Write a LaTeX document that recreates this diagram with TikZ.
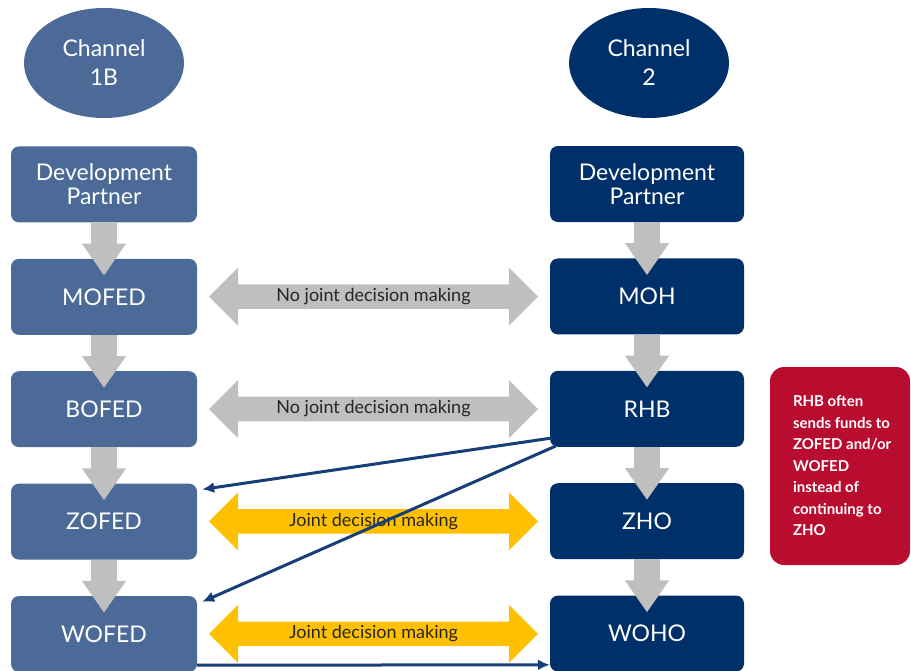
\documentclass[tikz,border=0pt]{standalone}
\usepackage{fontspec}
\setmainfont{Lato}
\usetikzlibrary{positioning,shapes.geometric,shapes.arrows,arrows.meta,calc}
\definecolor{leftblue}{HTML}{4B6A97}
\definecolor{navy}{HTML}{003069}
\definecolor{arrowgray}{HTML}{BFBFBF}
\definecolor{jointgold}{HTML}{FFC000}
\definecolor{notered}{HTML}{B90D30}
\definecolor{linkblue}{HTML}{173E78}
\definecolor{labeltext}{HTML}{262626}
\begin{document}
\begin{tikzpicture}[node distance={36pt},
    chan/.style = {ellipse, minimum width=160pt, minimum height=110pt, inner sep=0pt, text=white, align=center, font=\fontsize{23}{29}\selectfont},
    org/.style = {rounded corners=8pt, minimum height=76pt, inner sep=0pt, text=white, align=center, font=\fontsize{23}{24}\selectfont},
    org1/.style = {org, fill=leftblue, minimum width=186pt},
    org2/.style = {org, fill=navy, minimum width=194pt},
    flow/.style = {arrowgray, line width=26pt, -{Triangle[width=42pt,length=32pt]}},
    relation/.style = {double arrow, double arrow head extend=11.5pt, minimum width=58pt, minimum height=329pt, inner sep=0pt, text=labeltext, font=\fontsize{18}{20}\selectfont},
    nojoint/.style = {relation, fill=arrowgray},
    joint/.style = {relation, fill=jointgold},
    bypass/.style = {linkblue, line width=3pt, -{Latex[length=12pt,width=11pt]}}]
    \useasboundingbox (0,0) rectangle (911pt,-670pt);
    % channel 1B
    \node[chan, fill=leftblue] (ch1) at (104pt,-63pt) {Channel\\1B};
    \node[org1] (dp1) [below=28pt of ch1] {Development\\Partner};
    \node[org1] (mofed) [below=of dp1] {MOFED};
    \node[org1] (bofed) [below=of mofed] {BOFED};
    \node[org1] (zofed) [below=of bofed] {ZOFED};
    \node[org1] (wofed) [below=of zofed] {WOFED};
    % channel 2
    \node[chan, fill=navy] (ch2) at (649pt,-63pt) {Channel\\2};
    \node[org2] (dp2) at (647pt,-184pt) {Development\\Partner};
    \node[org2] (moh) [below=of dp2] {MOH};
    \node[org2] (rhb) [below=of moh] {RHB};
    \node[org2] (zho) [below=of rhb] {ZHO};
    \node[org2] (woho) [below=of zho] {WOHO};
    % funding flows
    \draw[flow] (dp1.south) -- ([yshift=-17pt]mofed.north);
    \draw[flow] (mofed.south) -- ([yshift=-17pt]bofed.north);
    \draw[flow] (bofed.south) -- ([yshift=-17pt]zofed.north);
    \draw[flow] (zofed.south) -- ([yshift=-17pt]wofed.north);
    \draw[flow] (dp2.south) -- ([yshift=-17pt]moh.north);
    \draw[flow] (moh.south) -- ([yshift=-17pt]rhb.north);
    \draw[flow] (rhb.south) -- ([yshift=-17pt]zho.north);
    \draw[flow] (zho.south) -- ([yshift=-17pt]woho.north);
    % decision making
    \node[nojoint] (r1) at ($(mofed.east)!0.5!(moh.west)$) {No joint decision making};
    \node[nojoint] (r2) at ($(bofed.east)!0.5!(rhb.west)$) {No joint decision making};
    \node[joint] (r3) at ($(zofed.east)!0.5!(zho.west)$) {Joint decision making};
    \node[joint] (r4) at ($(wofed.east)!0.5!(woho.west)$) {Joint decision making};
    % bypass
    \draw[bypass] ([xshift=2pt,yshift=9pt]rhb.south west) -- ([xshift=5pt,yshift=-6pt]zofed.north east);
    \draw[bypass] ([xshift=6pt,yshift=1pt]rhb.south west) -- ([xshift=5pt,yshift=-6pt]wofed.north east);
    \draw[bypass] ([yshift=7pt]wofed.south east) -- ([yshift=7pt]woho.south west);
    % note
    \node[fill=notered, rounded corners=14pt, minimum width=140pt, minimum height=198pt] (note) at (840pt,-466pt) {};
    \node[anchor=west, inner sep=0pt, align=left, text=white, font=\fontsize{15}{21.5}\selectfont\bfseries] (notetext) at ([xshift=23pt]note.west) {RHB often\\sends funds to\\ZOFED and/or\\WOFED\\instead of\\continuing to\\ZHO};
\end{tikzpicture}
\end{document}
